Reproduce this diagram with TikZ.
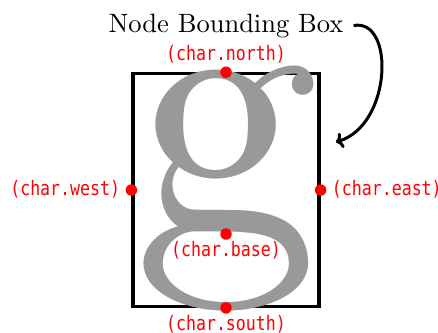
\documentclass[tikz,border=0pt]{standalone}
\usepackage{fontspec}
\newfontfamily\labfont{DejaVu Sans Mono}[FakeStretch=0.83]
\newfontfamily\lmten{lmroman10-regular.otf}
\usetikzlibrary{arrows.meta}
\tikzset{
  anchordot/.style={circle, fill=red, inner sep=0pt, minimum size=11.5pt},
  anchorlab/.style={text=red, inner sep=0pt, font=\labfont\fontsize{20}{22}\selectfont},
  boxarrow/.style={line width=3pt, -{To[length=7pt,width=16pt]}},
}
\begin{document}
\begin{tikzpicture}[x=1pt, y=-1pt]
\useasboundingbox (0,0) rectangle (438,332);
\node[draw, line width=3.2pt, inner sep=0pt, anchor=base, text=black!40,
      text height=160.2pt, text depth=72.3pt,
      font=\lmten\fontsize{372}{372}\selectfont] (char) at (226,234) {g};
\node[anchor=base, inner sep=0pt, font=\lmten\fontsize{26.5}{30}\selectfont] (title) at (226,32) {Node Bounding Box};
\coordinate (tip) at (336,142);
\coordinate (start) at ([xshift=10pt]title.east);
\draw[boxarrow] (start) .. controls (395,18) and (392,125) .. (tip);
\foreach \a in {north,south,east,west,base}
  \node[anchordot] (dot-\a) at (char.\a) {};
\node[anchorlab, anchor=base] (lab-north) at ([yshift=11.3pt]char.north) {(char.north)};
\node[anchorlab, anchor=base] (lab-south) at ([yshift=-22.5pt]char.south) {(char.south)};
\node[anchorlab, anchor=base east] (lab-west) at ([xshift=-11pt,yshift=-5.5pt]char.west) {(char.west)};
\node[anchorlab, anchor=base west] (lab-east) at ([xshift=11pt,yshift=-5.5pt]char.east) {(char.east)};
\node[anchorlab, anchor=base] (lab-base) at ([yshift=-22.5pt]char.base) {(char.base)};
\end{tikzpicture}
\end{document}
